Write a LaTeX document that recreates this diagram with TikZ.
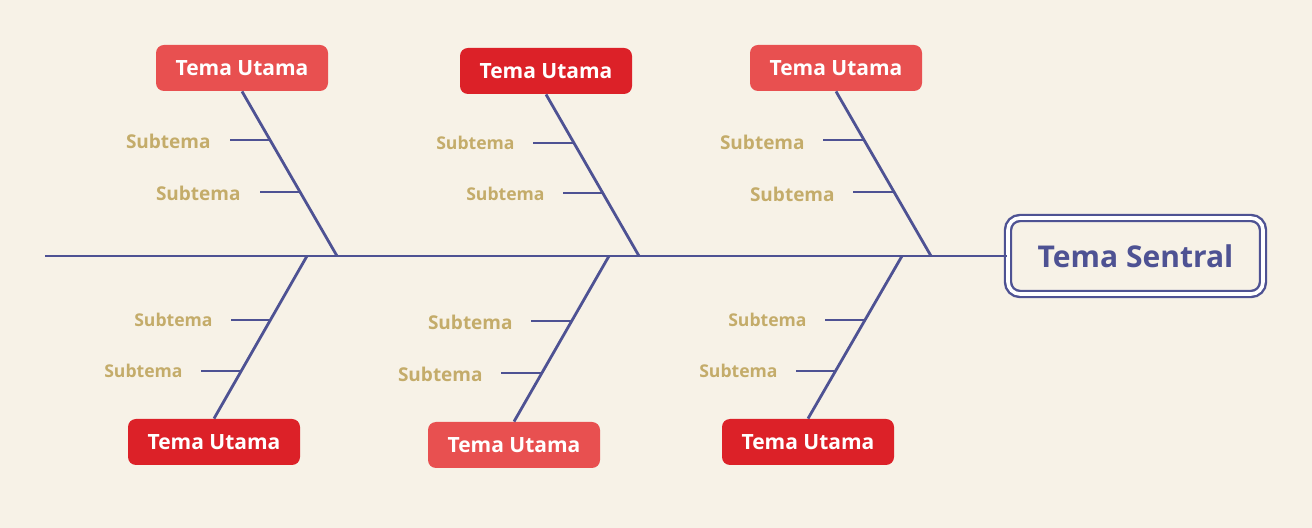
\documentclass[tikz,border=0pt]{standalone}
\usepackage{fontspec}
\setmainfont{Open Sans}
\usetikzlibrary{calc}

\definecolor{bgcream}{HTML}{F7F2E7}
\definecolor{bonenavy}{HTML}{4E5293}
\definecolor{subgold}{HTML}{C4AC6A}
\definecolor{redlight}{HTML}{E85050}
\definecolor{reddark}{HTML}{DC2128}

\tikzset{
  bone/.style={draw=bonenavy, line width=1.4pt},
  tick/.style={draw=bonenavy, line width=1.3pt},
  mainbox/.style={rounded corners=4pt, minimum width=86pt, minimum height=23pt,
    text=white, font=\bfseries\fontsize{10.5}{12}\selectfont, inner sep=0pt},
  mainlight/.style={mainbox, fill=redlight},
  maindark/.style={mainbox, fill=reddark},
  sublabel/.style={text=subgold, font=\bfseries\fontsize{9.5}{11}\selectfont, inner sep=0pt},
  subsmall/.style={sublabel, font=\bfseries\fontsize{8.8}{10}\selectfont},
  headbox/.style={draw=bonenavy, line width=1.2pt, double=white, double distance=1.8pt,
    rounded corners=6pt, minimum width=127.5pt, minimum height=38pt,
    text=bonenavy, font=\bfseries\fontsize{15}{18}\selectfont}
}

\begin{document}
\begin{tikzpicture}[x=0.5pt, y=-0.5pt]

\fill[bgcream] (0,0) rectangle (1312,528);
\useasboundingbox (0,0) rectangle (1312,528);

% -------- head and spine -----------
\node[headbox] (head) at (1135.5,256) {Tema Sentral};
\coordinate (tail) at (45,256);
\draw[bone] (tail) -- (head.west);

\coordinate (k1) at (337,256);
\coordinate (k2) at (639,256);
\coordinate (k3) at (931,256);
\coordinate (k4) at (307,256);
\coordinate (k5) at (609,256);
\coordinate (k6) at (902,256);

% -------- top bones -----------
\node[mainlight] (b1) at (242,68) {Tema Utama};
\node[maindark]  (b2) at (546,71) {Tema Utama};
\node[mainlight] (b3) at (836,68) {Tema Utama};

\draw[bone] (b1.south) -- (k1);
\draw[bone] (b2.south) -- (k2);
\draw[bone] (b3.south) -- (k3);

\coordinate (j11) at (270,140);
\coordinate (j12) at (300,192);
\coordinate (j21) at (573,143);
\coordinate (j22) at (602,193);
\coordinate (j31) at (864,140);
\coordinate (j32) at (894,192);

\node[sublabel, anchor=east] (s11) at (211,141) {Subtema};
\node[sublabel, anchor=east] (s12) at (241,193) {Subtema};
\node[subsmall, anchor=east] (s21) at (515,143) {Subtema};
\node[subsmall, anchor=east] (s22) at (545,194) {Subtema};
\node[sublabel, anchor=east] (s31) at (805,142) {Subtema};
\node[sublabel, anchor=east] (s32) at (835,194) {Subtema};

\draw[tick] ([xshift=9.5pt]s11.east |- j11) -- (j11);
\draw[tick] ([xshift=9.5pt]s12.east |- j12) -- (j12);
\draw[tick] ([xshift=9pt]s21.east |- j21) -- (j21);
\draw[tick] ([xshift=9pt]s22.east |- j22) -- (j22);
\draw[tick] ([xshift=9pt]s31.east |- j31) -- (j31);
\draw[tick] ([xshift=9pt]s32.east |- j32) -- (j32);

% -------- bottom bones -----------
\node[maindark]  (b4) at (214,442) {Tema Utama};
\node[mainlight] (b5) at (514,445) {Tema Utama};
\node[maindark]  (b6) at (808,442) {Tema Utama};

\draw[bone] (k4) -- (b4.north);
\draw[bone] (k5) -- (b5.north);
\draw[bone] (k6) -- (b6.north);

\coordinate (j41) at (271,320);
\coordinate (j42) at (241,371);
\coordinate (j51) at (571,321);
\coordinate (j52) at (541,373);
\coordinate (j61) at (865,320);
\coordinate (j62) at (836,371);

\node[subsmall, anchor=east] (s41) at (213,320) {Subtema};
\node[subsmall, anchor=east] (s42) at (183,371) {Subtema};
\node[sublabel, anchor=east] (s51) at (513,322) {Subtema};
\node[sublabel, anchor=east] (s52) at (483,374) {Subtema};
\node[subsmall, anchor=east] (s61) at (807,320) {Subtema};
\node[subsmall, anchor=east] (s62) at (778,371) {Subtema};

\draw[tick] ([xshift=9pt]s41.east |- j41) -- (j41);
\draw[tick] ([xshift=9pt]s42.east |- j42) -- (j42);
\draw[tick] ([xshift=9pt]s51.east |- j51) -- (j51);
\draw[tick] ([xshift=9pt]s52.east |- j52) -- (j52);
\draw[tick] ([xshift=9pt]s61.east |- j61) -- (j61);
\draw[tick] ([xshift=9pt]s62.east |- j62) -- (j62);

\end{tikzpicture}
\end{document}
